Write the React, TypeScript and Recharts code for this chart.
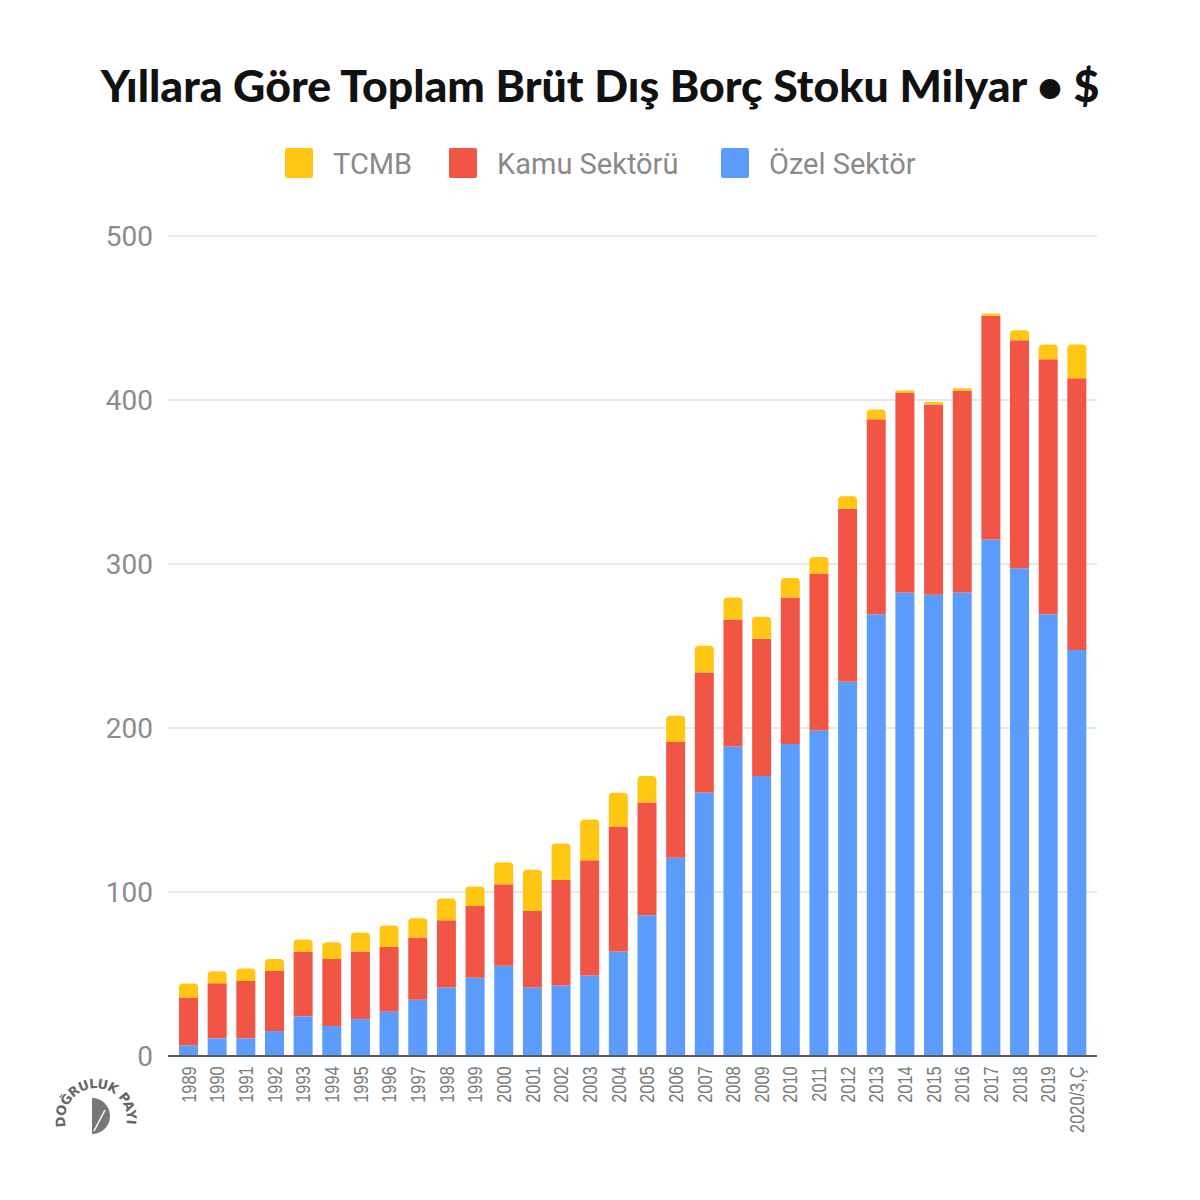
import React from 'react';
import { BarChart, Bar, XAxis, YAxis, CartesianGrid } from 'recharts';

const years = ['1989','1990','1991','1992','1993','1994','1995','1996','1997','1998','1999','2000','2001','2002','2003','2004','2005','2006','2007','2008','2009','2010','2011','2012','2013','2014','2015','2016','2017','2018','2019','2020/3,Ç'];
const ozelSektor = [6.5, 10.8, 10.8, 15.2, 24.2, 18.3, 22.5, 27.2, 34.3, 41.8, 47.7, 55.0, 41.8, 43.0, 49.1, 63.7, 85.8, 120.9, 160.7, 188.7, 170.8, 190.2, 198.4, 228.2, 269.4, 282.6, 281.2, 282.6, 314.9, 297.4, 269.4, 247.5];
const kamuSektoru = [29.2, 33.6, 35.0, 36.7, 39.5, 40.9, 41.2, 39.3, 37.9, 41.0, 43.8, 49.7, 46.6, 64.5, 70.2, 76.3, 68.8, 70.6, 73.2, 77.5, 83.6, 89.4, 95.8, 105.5, 118.9, 121.7, 116.1, 123.2, 136.5, 139.0, 155.4, 165.8];
const tcmb = [8.5, 7.3, 7.6, 7.3, 7.3, 10.2, 11.6, 13.0, 11.8, 13.2, 11.8, 13.4, 25.2, 22.1, 24.9, 20.5, 16.2, 15.9, 16.3, 13.4, 13.4, 11.8, 10.1, 7.6, 5.9, 1.5, 1.5, 1.4, 1.4, 6.1, 9.0, 20.5];
const yTicks = [0, 100, 200, 300, 400, 500];

const YELLOW = '#FFC714';
const RED = '#F05545';
const BLUE = '#5B9CFC';

const data = years.map((y, i) => ({ year: y, ozel: ozelSektor[i], kamu: kamuSektoru[i], tcmb: tcmb[i] }));

const legendItems = [
  { label: 'TCMB', color: YELLOW, x: 285 },
  { label: 'Kamu Sektörü', color: RED, x: 449 },
  { label: 'Özel Sektör', color: BLUE, x: 721 },
];

const XTick = (props: any) => {
  const { x, y, payload } = props;
  return (
    <g transform={`translate(${x},${y})`}>
      <text
        transform="rotate(-90) scale(0.8,1)"
        x={-3}
        y={0}
        dy="0.36em"
        textAnchor="end"
        fill="#7a7a7a"
        fontSize={20.5}
        fontFamily="'Liberation Sans', Arial, sans-serif"
      >
        {payload.value}
      </text>
    </g>
  );
};

const YTick = (props: any) => {
  const { y, payload } = props;
  return (
    <text x={153} y={y} dy="0.36em" textAnchor="end" fill="#8c8c8c" fontSize={28} fontFamily="Roboto, sans-serif">
      {payload.value}
    </text>
  );
};

export default function App() {
  return (
    <div style={{ position: 'absolute', left: 0, top: 0, width: 1200, height: 1200, background: '#ffffff' }}>
      <BarChart
        width={1200}
        height={1200}
        data={data}
        margin={{ top: 236, right: 103, bottom: 44, left: 68 }}
        barSize={19}
      >
        <CartesianGrid vertical={false} stroke="#e2e2de" strokeWidth={1.5} />
        <XAxis
          dataKey="year"
          interval={0}
          height={100}
          padding={{ left: 6, right: 6 }}
          tickLine={false}
          axisLine={{ stroke: '#5a5a5a', strokeWidth: 2 }}
          tick={<XTick />}
        />
        <YAxis
          width={100}
          domain={[0, 500]}
          ticks={yTicks}
          axisLine={false}
          tickLine={false}
          tick={<YTick />}
        />
        <Bar dataKey="ozel" stackId="a" fill={BLUE} isAnimationActive={false} />
        <Bar dataKey="kamu" stackId="a" fill={RED} isAnimationActive={false} />
        <Bar dataKey="tcmb" stackId="a" fill={YELLOW} radius={[4, 4, 0, 0]} isAnimationActive={false} />
      </BarChart>
      <svg width={1200} height={1200} style={{ position: 'absolute', left: 0, top: 0, pointerEvents: 'none' }}>
        <text x={600} y={102} textAnchor="middle" fontFamily="Lato, sans-serif" fontWeight={900} fontSize={44.6} fill="#111">
          Yıllara Göre Toplam Brüt Dış Borç Stoku Milyar • $
        </text>
        {legendItems.map((it) => (
          <g key={it.label}>
            <rect x={it.x} y={148} width={28} height={30} rx={2} fill={it.color} />
            <text x={it.x + 48} y={174} fontFamily="Roboto, sans-serif" fontSize={29} fill="#8a8a8a">
              {it.label}
            </text>
          </g>
        ))}
        <defs>
          <path id="logoArc" d="M 66 1127 A 31 31 0 1 1 126 1127" />
        </defs>
        <text fontFamily="'DejaVu Sans', sans-serif" fontWeight="bold" fontSize={13} fill="#666">
          <textPath href="#logoArc" textLength={110} lengthAdjust="spacing">DOĞRULUK PAYI</textPath>
        </text>
        <path d="M 92 1098 A 18 18 0 0 1 92 1134 Z" fill="#777" />
        <line x1={94} y1={1131} x2={105} y2={1110} stroke="#fff" strokeWidth={1.5} />
      </svg>
    </div>
  );
}
